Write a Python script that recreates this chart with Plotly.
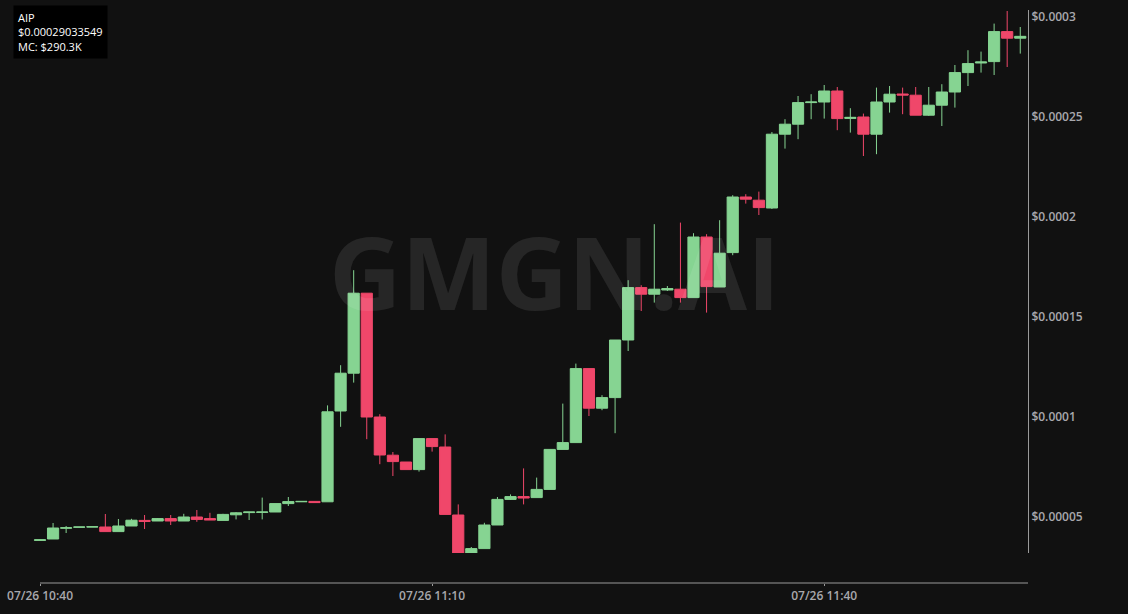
import pandas as pd
import plotly.graph_objects as go

# ---- data (1-minute candles, 07/26 10:40 -> 11:55) ----
start_time = "2024-07-26 10:40"
n_candles = 76
times = pd.date_range(start_time, periods=n_candles, freq="min")

opens = [3.83e-5, 3.90e-5, 4.44e-5, 4.49e-5, 4.50e-5, 4.50e-5, 4.27e-5, 4.55e-5, 4.83e-5, 4.80e-5,
         4.92e-5, 4.80e-5, 5.00e-5, 4.92e-5, 4.83e-5, 5.11e-5, 5.22e-5, 5.23e-5, 5.25e-5, 5.67e-5,
         5.76e-5, 5.78e-5, 5.76e-5, 10.30e-5, 12.19e-5, 16.19e-5, 10.00e-5, 8.09e-5, 7.75e-5, 7.37e-5,
         8.92e-5, 8.50e-5, 5.10e-5, 3.20e-5, 3.42e-5, 4.60e-5, 5.88e-5, 6.02e-5, 5.97e-5, 6.38e-5,
         8.38e-5, 8.72e-5, 12.42e-5, 10.44e-5, 10.97e-5, 13.85e-5, 16.47e-5, 16.14e-5, 16.35e-5, 16.39e-5,
         15.97e-5, 19.00e-5, 16.50e-5, 18.22e-5, 21.00e-5, 20.84e-5, 20.45e-5, 24.14e-5, 24.64e-5, 25.72e-5,
         25.75e-5, 26.30e-5, 24.93e-5, 25.00e-5, 24.14e-5, 25.75e-5, 26.15e-5, 26.09e-5, 25.09e-5, 25.59e-5,
         26.25e-5, 27.22e-5, 27.70e-5, 27.77e-5, 29.27e-5, 28.94e-5]
highs = [3.88e-5, 4.70e-5, 4.55e-5, 4.50e-5, 4.51e-5, 5.15e-5, 4.90e-5, 4.91e-5, 5.10e-5, 4.95e-5,
         5.10e-5, 5.16e-5, 5.35e-5, 5.21e-5, 5.16e-5, 5.25e-5, 5.25e-5, 5.97e-5, 5.67e-5, 6.00e-5,
         5.78e-5, 5.78e-5, 10.58e-5, 12.59e-5, 17.34e-5, 16.19e-5, 10.14e-5, 8.25e-5, 7.75e-5, 8.92e-5,
         8.92e-5, 9.13e-5, 5.63e-5, 3.50e-5, 4.71e-5, 6.00e-5, 6.13e-5, 7.43e-5, 6.97e-5, 8.38e-5,
         10.67e-5, 12.67e-5, 12.42e-5, 11.09e-5, 13.85e-5, 16.84e-5, 16.59e-5, 19.64e-5, 16.55e-5, 19.72e-5,
         19.19e-5, 19.14e-5, 19.84e-5, 21.09e-5, 21.14e-5, 21.27e-5, 24.25e-5, 24.89e-5, 26.05e-5, 26.14e-5,
         26.60e-5, 26.50e-5, 25.44e-5, 25.17e-5, 26.47e-5, 26.55e-5, 26.47e-5, 26.50e-5, 26.50e-5, 26.64e-5,
         27.60e-5, 28.34e-5, 28.27e-5, 29.67e-5, 30.30e-5, 29.50e-5]
lows = [3.82e-5, 3.90e-5, 4.20e-5, 4.49e-5, 4.50e-5, 4.27e-5, 4.27e-5, 4.55e-5, 4.40e-5, 4.80e-5,
        4.60e-5, 4.80e-5, 4.76e-5, 4.85e-5, 4.83e-5, 4.88e-5, 4.85e-5, 4.88e-5, 5.25e-5, 5.55e-5,
        5.76e-5, 5.72e-5, 5.76e-5, 9.51e-5, 11.72e-5, 8.89e-5, 7.64e-5, 7.05e-5, 7.37e-5, 7.27e-5,
        8.27e-5, 5.13e-5, 3.20e-5, 3.20e-5, 3.42e-5, 4.60e-5, 5.85e-5, 5.63e-5, 5.97e-5, 6.38e-5,
        8.38e-5, 8.72e-5, 10.05e-5, 10.34e-5, 9.19e-5, 13.30e-5, 15.30e-5, 15.72e-5, 16.30e-5, 15.72e-5,
        15.97e-5, 15.22e-5, 16.50e-5, 18.09e-5, 20.67e-5, 20.10e-5, 20.40e-5, 23.42e-5, 23.89e-5, 24.89e-5,
        24.92e-5, 24.34e-5, 24.22e-5, 23.05e-5, 23.14e-5, 25.22e-5, 25.14e-5, 25.09e-5, 25.05e-5, 24.55e-5,
        25.47e-5, 26.55e-5, 27.22e-5, 27.10e-5, 27.50e-5, 28.17e-5]
closes = [3.86e-5, 4.45e-5, 4.46e-5, 4.50e-5, 4.51e-5, 4.27e-5, 4.55e-5, 4.84e-5, 4.78e-5, 4.92e-5,
          4.80e-5, 5.00e-5, 4.88e-5, 4.85e-5, 5.13e-5, 5.21e-5, 5.25e-5, 5.25e-5, 5.67e-5, 5.77e-5,
          5.78e-5, 5.72e-5, 10.26e-5, 12.19e-5, 16.19e-5, 10.00e-5, 8.10e-5, 7.77e-5, 7.37e-5, 8.92e-5,
          8.52e-5, 5.13e-5, 3.20e-5, 3.42e-5, 4.60e-5, 5.88e-5, 6.02e-5, 5.95e-5, 6.38e-5, 8.38e-5,
          8.72e-5, 12.42e-5, 10.44e-5, 10.97e-5, 13.85e-5, 16.47e-5, 16.14e-5, 16.39e-5, 16.42e-5, 15.97e-5,
          19.00e-5, 16.52e-5, 18.19e-5, 21.00e-5, 20.89e-5, 20.47e-5, 24.14e-5, 24.64e-5, 25.72e-5, 25.75e-5,
          26.30e-5, 24.92e-5, 24.98e-5, 24.14e-5, 25.75e-5, 26.14e-5, 26.10e-5, 25.09e-5, 25.59e-5, 26.25e-5,
          27.22e-5, 27.67e-5, 27.75e-5, 29.27e-5, 28.94e-5, 29.033549e-5]

y_tick_vals = [5e-5, 1e-4, 1.5e-4, 2e-4, 2.5e-4, 3e-4]
y_tick_text = ["$0.00005", "$0.0001", "$0.00015", "$0.0002", "$0.00025", "$0.0003"]
x_tick_vals = ["2024-07-26 10:40", "2024-07-26 11:10", "2024-07-26 11:40"]

token = "AIP"
price_text = "$0.00029033549"
mcap_text = "MC: $290.3K"

# ---- style ----
GREEN = "#86d492"
RED = "#f0476a"
BG = "#111111"
AXIS = "#9a9a9a"
LABEL = "#a8a8ad"

fig = go.Figure(
    go.Candlestick(
        x=times, open=opens, high=highs, low=lows, close=closes,
        increasing=dict(line=dict(color=GREEN, width=1), fillcolor=GREEN),
        decreasing=dict(line=dict(color=RED, width=1), fillcolor=RED),
        whiskerwidth=0,
        showlegend=False,
        hoverinfo="skip",
    )
)

W, H = 1128, 614
ml, mr, mt, mb = 30, 100, 10, 31
plot_w = W - ml - mr
px_per_min = 13.07
x0 = pd.Timestamp(start_time) - pd.Timedelta(minutes=(40 - ml) / px_per_min)
x1 = x0 + pd.Timedelta(minutes=plot_w / px_per_min)

plot_h = H - mt - mb
y_bottom_px = 553
y_dom0 = (H - mb - y_bottom_px) / plot_h

fig.update_layout(
    width=W, height=H,
    margin=dict(l=ml, r=mr, t=mt, b=mb, autoexpand=False),
    paper_bgcolor=BG, plot_bgcolor=BG,
    boxgap=0.1, boxgroupgap=0.05,
    xaxis=dict(
        type="date",
        range=[x0, x1],
        rangeslider=dict(visible=False),
        anchor="free", position=0,
        showgrid=False, zeroline=False, showline=False,
        tickvals=x_tick_vals,
        tickformat="%m/%d %H:%M",
        ticks="outside", ticklen=2, tickcolor=AXIS,
        automargin=False,
        tickfont=dict(family="Open Sans, sans-serif", size=12, color=LABEL, weight=600),
    ),
    yaxis=dict(
        side="right",
        domain=[y_dom0, 1],
        range=[3.2e-5, 3.035e-4],
        showgrid=False, zeroline=False,
        showline=True, linecolor=AXIS, linewidth=1,
        automargin=False,
        ticks="", tickvals=y_tick_vals, ticktext=y_tick_text,
        tickfont=dict(family="Open Sans, sans-serif", size=12, color=LABEL, weight=600),
    ),
    shapes=[dict(type="line", xref="x", yref="paper",
                 x0=x_tick_vals[0], x1=x1, y0=0, y1=0,
                 line=dict(color=AXIS, width=1))],
    annotations=[
        dict(text="GMGN.AI", xref="paper", yref="paper",
             x=(554 - ml) / plot_w, y=(H - mb - 271) / plot_h,
             xanchor="center", yanchor="middle", showarrow=False,
             font=dict(family="Open Sans, sans-serif", size=100, color="rgba(255,255,255,0.09)",
                       weight="bold")),
        dict(text=f"{token}<br>{price_text}<br>{mcap_text}",
             xref="paper", yref="paper",
             x=(13 - ml) / plot_w, y=1 + (mt - 5) / plot_h,
             xanchor="left", yanchor="top", align="left", showarrow=False,
             bgcolor="#000000", borderpad=4,
             font=dict(family="Open Sans, sans-serif", size=11, color="#ffffff")),
    ],
)

fig.write_html("out.html", config={"displayModeBar": False},
               post_script="document.body.style.margin='0';")
